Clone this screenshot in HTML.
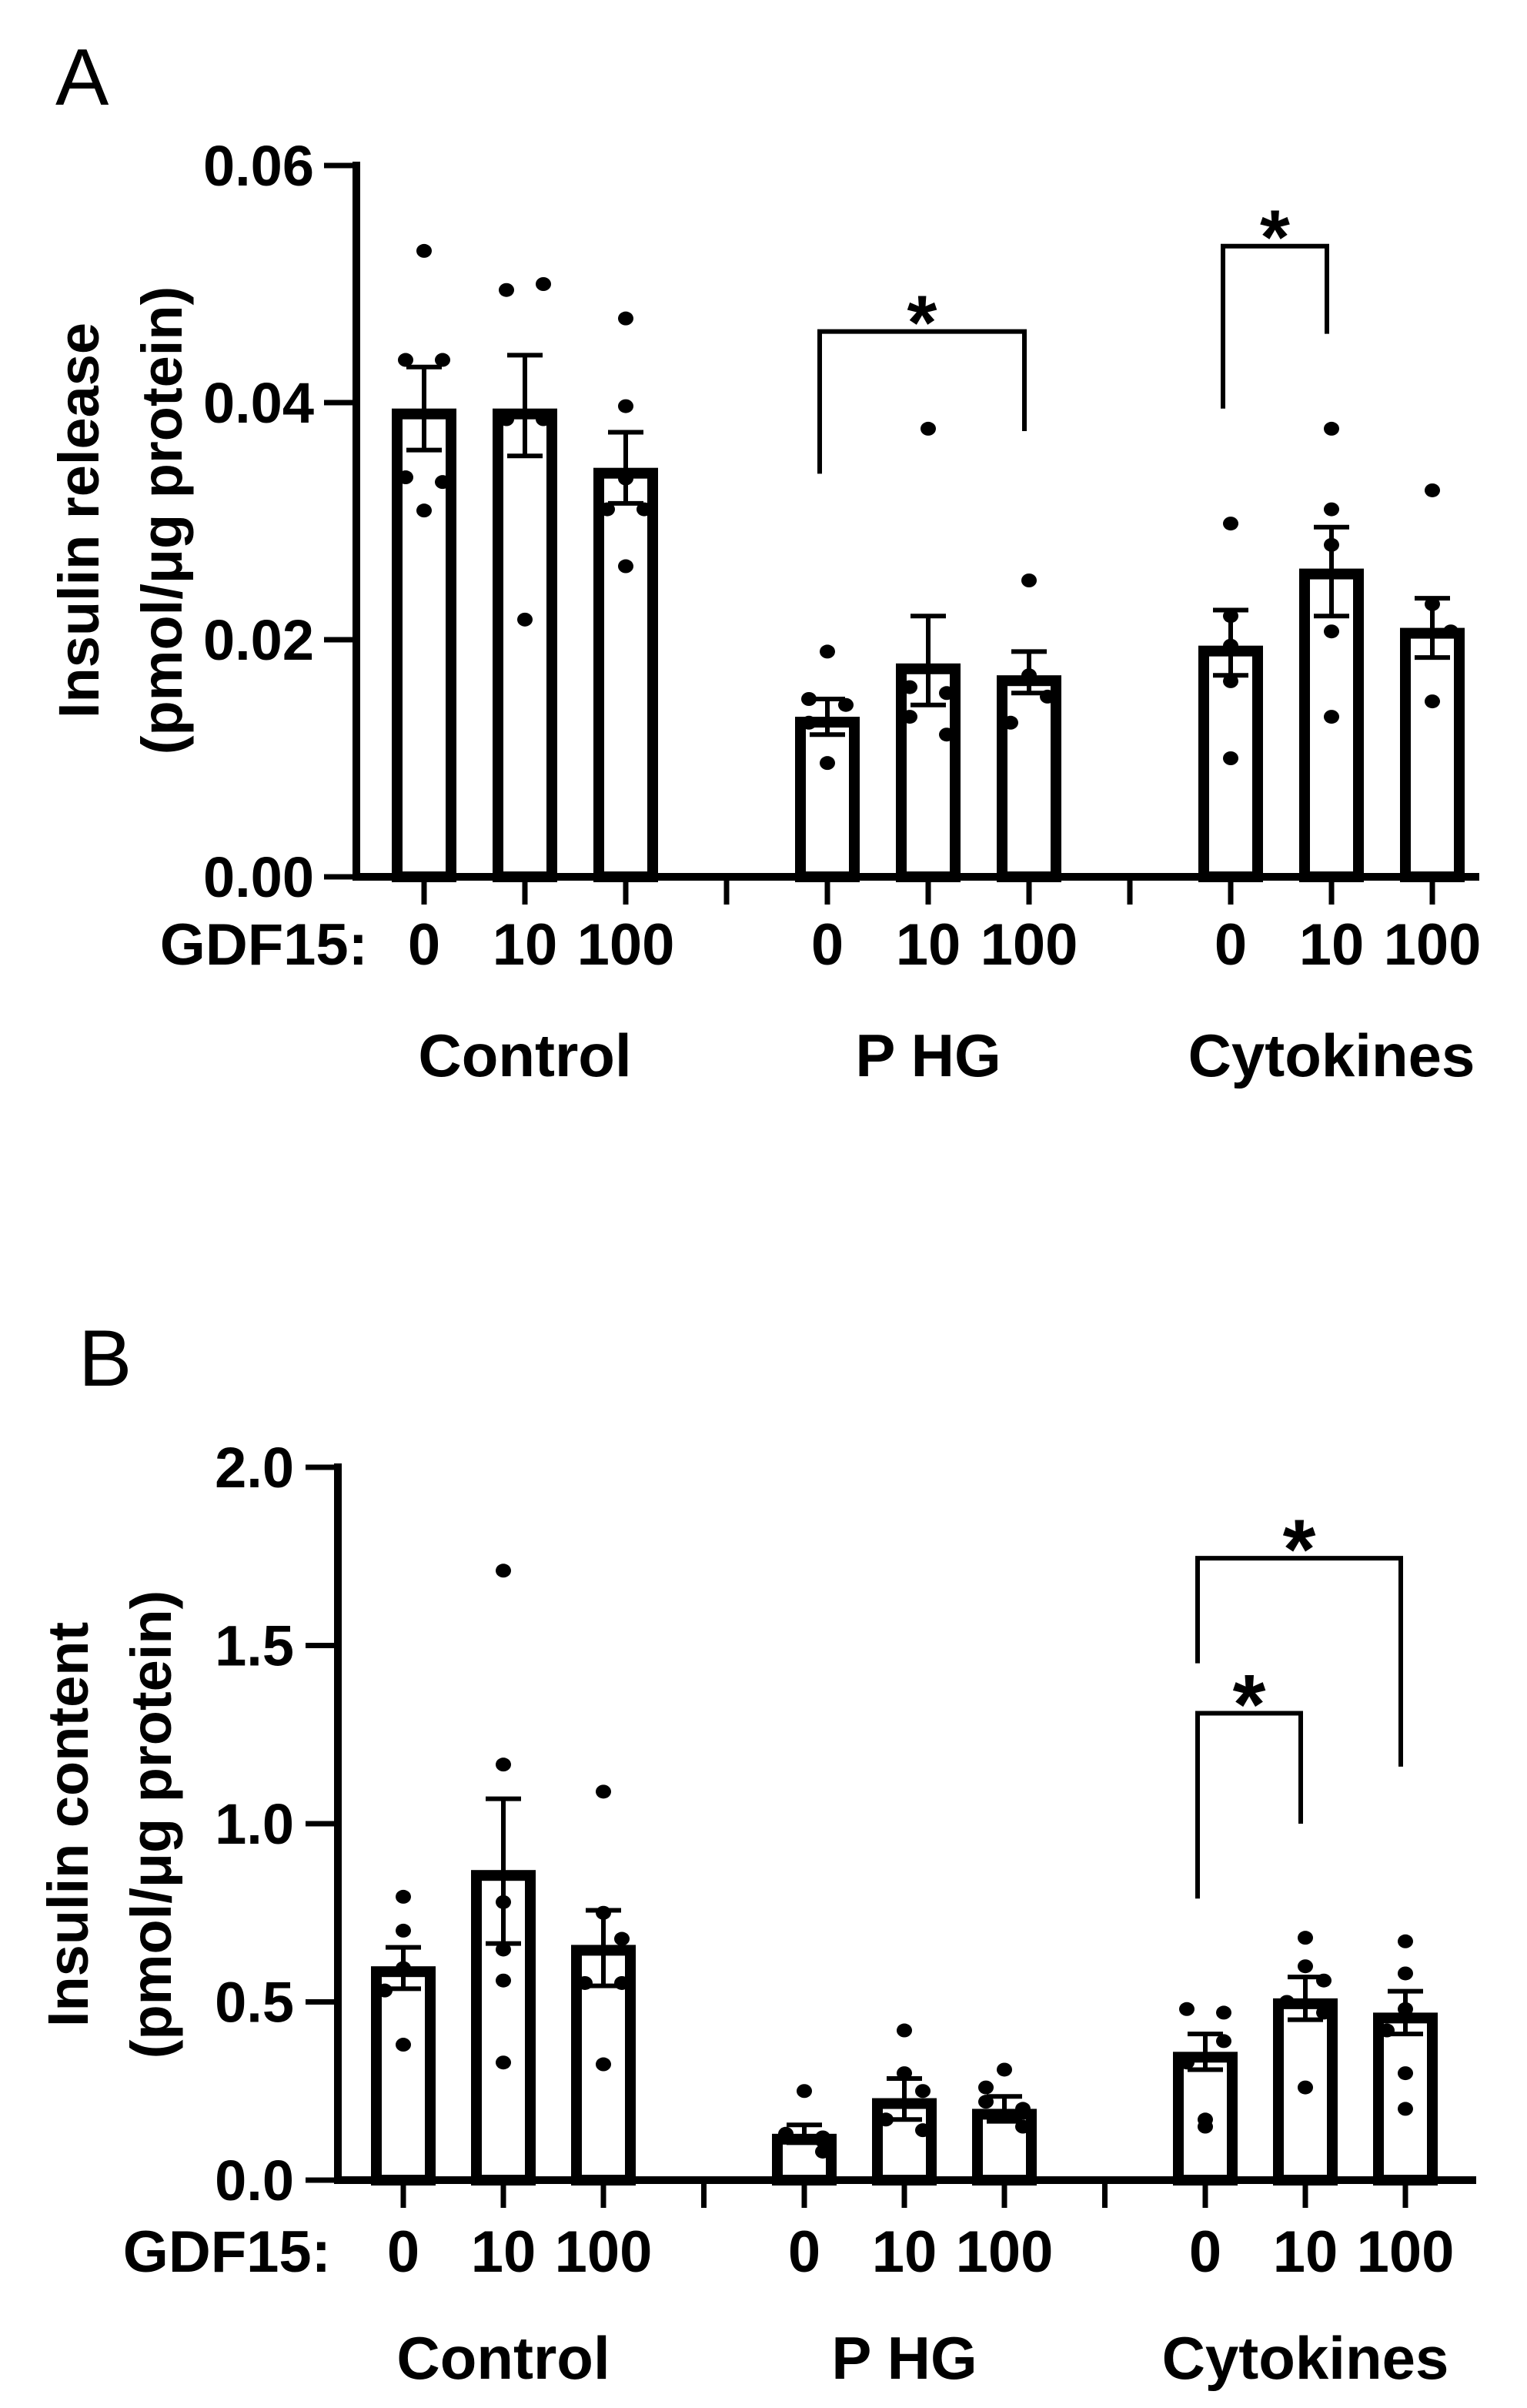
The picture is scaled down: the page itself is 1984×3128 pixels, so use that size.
<!DOCTYPE html>
<html><head><meta charset="utf-8"><style>
html,body{margin:0;padding:0;background:#fff;}
svg{display:block;}
text{font-family:"Liberation Sans",Arial,sans-serif;fill:#000;}
</style></head>
<body>
<svg id="fig" width="1984" height="3128" viewBox="0 0 1984 3128"></svg>
<script>
// ---- Data (Panel A: insulin release) ----
const groups = ["Control", "P HG", "Cytokines"];
const doses = ["0", "10", "100"];
const aTicks = ["0.00", "0.02", "0.04", "0.06"];
const aTickVals = [0, 0.02, 0.04, 0.06];
const aMeans = [0.0395, 0.0395, 0.0345, 0.0135, 0.018, 0.017, 0.0195, 0.026, 0.021];
const aSemHi = [0.043, 0.044, 0.0375, 0.015, 0.022, 0.019, 0.0225, 0.0295, 0.0235];
const aSemLo = [0.036, 0.0355, 0.0315, 0.012, 0.0145, 0.0155, 0.017, 0.022, 0.0185];
const aPoints = [
  [0.0528, 0.0436, 0.0436, 0.0337, 0.0333, 0.0309],
  [0.0495, 0.050, 0.0386, 0.0386, 0.0217],
  [0.0471, 0.0397, 0.0336, 0.031, 0.031, 0.0262],
  [0.019, 0.015, 0.0145, 0.013, 0.0096],
  [0.0378, 0.016, 0.0155, 0.0135, 0.012],
  [0.025, 0.017, 0.0152, 0.013],
  [0.0298, 0.022, 0.0195, 0.0165, 0.010],
  [0.0378, 0.031, 0.028, 0.0207, 0.0135],
  [0.0326, 0.023, 0.0207, 0.0148]
];
// ---- Data (Panel B: insulin content) ----
const bTicks = ["0.0", "0.5", "1.0", "1.5", "2.0"];
const bTickVals = [0, 0.5, 1.0, 1.5, 2.0];
const bMeans = [0.6, 0.87, 0.66, 0.13, 0.23, 0.2, 0.36, 0.51, 0.47];
const bSemHi = [0.653, 1.07, 0.757, 0.155, 0.285, 0.235, 0.41, 0.57, 0.53];
const bSemLo = [0.537, 0.664, 0.545, 0.105, 0.17, 0.165, 0.31, 0.45, 0.41];
const bPoints = [
  [0.795, 0.70, 0.595, 0.532, 0.38],
  [1.71, 1.166, 0.78, 0.647, 0.56, 0.33],
  [1.09, 0.75, 0.677, 0.553, 0.553, 0.325],
  [0.25, 0.13, 0.12, 0.11, 0.08],
  [0.42, 0.3, 0.25, 0.17, 0.14],
  [0.31, 0.26, 0.22, 0.2, 0.15],
  [0.48, 0.47, 0.39, 0.33, 0.17, 0.15],
  [0.68, 0.6, 0.56, 0.5, 0.47, 0.26],
  [0.67, 0.58, 0.48, 0.42, 0.3, 0.2]
];

const NS = "http://www.w3.org/2000/svg";
const svg = document.getElementById("fig");
function el(tag, attrs, parent, txt) {
  const e = document.createElementNS(NS, tag);
  for (const k in attrs) e.setAttribute(k, attrs[k]);
  if (txt !== undefined) e.textContent = txt;
  (parent || svg).appendChild(e);
  return e;
}

function panel(cfg) {
  const g = el("g", {});
  
  
  const y = v => cfg.y0 - (v - cfg.vmin) / (cfg.vmax - cfg.vmin) * (cfg.y0 - cfg.yTop);
  const bx = i => cfg.x0 + Math.floor(i / 3) * cfg.groupStep + (i % 3) * cfg.barStep;

  const L = el("text", {x: cfg.letterX, y: cfg.letterY, "font-size": 104}, g, cfg.letter);
  
  

  const ya = el("line", {x1: cfg.axisX, x2: cfg.axisX, y1: y(cfg.vmax) - 5, y2: cfg.y0 + 5, stroke: "#000", "stroke-width": 10}, g);
  
  
  cfg.tickVals.forEach((v, i) => {
    const t = el("line", {x1: cfg.axisX - 42, x2: cfg.axisX, y1: y(v), y2: y(v), stroke: "#000", "stroke-width": 7}, g);
    
    
    const tl = el("text", {x: cfg.tickLabelX, y: y(v) + 26, "font-size": 74, "font-weight": "bold", "text-anchor": "end"}, g, cfg.ticks[i]);
    
    
  });
  const yt = el("text", {transform: `translate(${cfg.titleX1},${cfg.titleY}) rotate(-90)`, "font-size": 74, "font-weight": "bold", "text-anchor": "middle"}, g, cfg.title);
  
  
  const yt2 = el("text", {transform: `translate(${cfg.titleX2},${cfg.titleY}) rotate(-90)`, "font-size": 74, "font-weight": "bold", "text-anchor": "middle"}, g, "(pmol/μg protein)");
  
  

  const xa = el("line", {x1: cfg.axisX - 5, x2: cfg.xEnd, y1: cfg.y0, y2: cfg.y0, stroke: "#000", "stroke-width": 10}, g);
  
  
  for (let i = 0; i < 9; i++) {
    const t = el("line", {x1: bx(i), x2: bx(i), y1: cfg.y0, y2: cfg.y0 + 36, stroke: "#000", "stroke-width": 7}, g);
    
    
  }
  for (let k = 1; k < 3; k++) {
    const sx = (bx(k * 3 - 1) + bx(k * 3)) / 2;
    const t = el("line", {x1: sx, x2: sx, y1: cfg.y0, y2: cfg.y0 + 36, stroke: "#000", "stroke-width": 7}, g);
    
    
  }

  for (let i = 0; i < 9; i++) {
    const cx = bx(i), top = y(cfg.means[i]);
    const r = el("rect", {x: cx - 35, y: top + 7, width: 70, height: cfg.y0 - top - 7, fill: "#fff", stroke: "#000", "stroke-width": 14}, g);
    
    
  }
  for (let i = 0; i < 9; i++) {
    const cx = bx(i);
    const pts = cfg.points[i];
    const pattern = [0, -1, 1, -1, 1, 0];
    pts.forEach((v, j) => {
      let off = pattern[j % pattern.length] * 24;
      if (j > 0 && Math.abs(pts[j - 1] - v) > (cfg.vmax - cfg.vmin) * 0.04) off = 0;
      if (j + 1 < pts.length && Math.abs(pts[j + 1] - v) < (cfg.vmax - cfg.vmin) * 0.01) off = -24;
      if (j > 0 && Math.abs(pts[j - 1] - v) < (cfg.vmax - cfg.vmin) * 0.01) off = 24;
      const c = el("ellipse", {cx: cx + off, cy: y(v), rx: 10, ry: 9, fill: "#000"}, g);
      
      
    });
  }
  for (let i = 0; i < 9; i++) {
    const cx = bx(i), hi = y(cfg.semHi[i]), lo = y(cfg.semLo[i]);
    const e = el("path", {d: `M${cx},${hi}V${lo}M${cx - 23},${hi}H${cx + 23}M${cx - 23},${lo}H${cx + 23}`, stroke: "#000", "stroke-width": 6, fill: "none"}, g);
    
    
  }
  const gl = el("text", {x: cfg.gdfX, y: cfg.doseY, "font-size": 76, "font-weight": "bold", "text-anchor": "end"}, g, "GDF15:");
  
  
  for (let i = 0; i < 9; i++) {
    const t = el("text", {x: bx(i), y: cfg.doseY, "font-size": 76, "font-weight": "bold", "text-anchor": "middle"}, g, doses[i % 3]);
    
    
  }
  groups.forEach((name, k) => {
    const t = el("text", {x: bx(k * 3 + 1), y: cfg.groupY, "font-size": 78, "font-weight": "bold", "text-anchor": "middle"}, g, name);
    
    
  });
  cfg.sig.forEach(s => {
    const xa = bx(s.a) - 10, xb = bx(s.b) - 6, ty = y(s.top);
    const p = el("path", {d: `M${xa},${y(s.endA)}V${ty}H${xb}V${y(s.endB)}`, stroke: "#000", "stroke-width": 6, fill: "none"}, g);
    
    
    const st = el("text", {x: (xa + xb) / 2, y: ty - 12 + s.starSize * 0.35, "font-size": s.starSize, "font-weight": "bold", "text-anchor": "middle"}, g, "*");
    
    
  });
}

panel({
  name: "panel-a-insulin-release", letter: "A", letterX: 72, letterY: 136,
  vmin: 0, vmax: 0.06, y0: 1139, yTop: 215, axisX: 463, xEnd: 1922,
  x0: 551, barStep: 131, groupStep: 524,
  ticks: aTicks, tickVals: aTickVals, tickLabelX: 408,
  title: "Insulin release", titleX1: 128, titleX2: 236, titleY: 676,
  means: aMeans, semHi: aSemHi, semLo: aSemLo, points: aPoints,
  gdfX: 478, doseY: 1253, groupY: 1398,
  sig: [
    {a: 3, b: 5, top: 0.0460, endA: 0.0340, endB: 0.0376, starSize: 100},
    {a: 6, b: 7, top: 0.0532, endA: 0.0395, endB: 0.0458, starSize: 100}
  ]
});
panel({
  name: "panel-b-insulin-content", letter: "B", letterX: 102, letterY: 1800,
  vmin: 0, vmax: 2.0, y0: 2832, yTop: 1906, axisX: 439, xEnd: 1918,
  x0: 524, barStep: 130, groupStep: 521,
  ticks: bTicks, tickVals: bTickVals, tickLabelX: 382,
  title: "Insulin content", titleX1: 114, titleX2: 222, titleY: 2370,
  means: bMeans, semHi: bSemHi, semLo: bSemLo, points: bPoints,
  gdfX: 430, doseY: 2951, groupY: 3090,
  sig: [
    {a: 6, b: 8, top: 1.745, endA: 1.45, endB: 1.16, starSize: 110},
    {a: 6, b: 7, top: 1.31, endA: 0.79, endB: 1.0, starSize: 110}
  ]
});
</script>
</body></html>
